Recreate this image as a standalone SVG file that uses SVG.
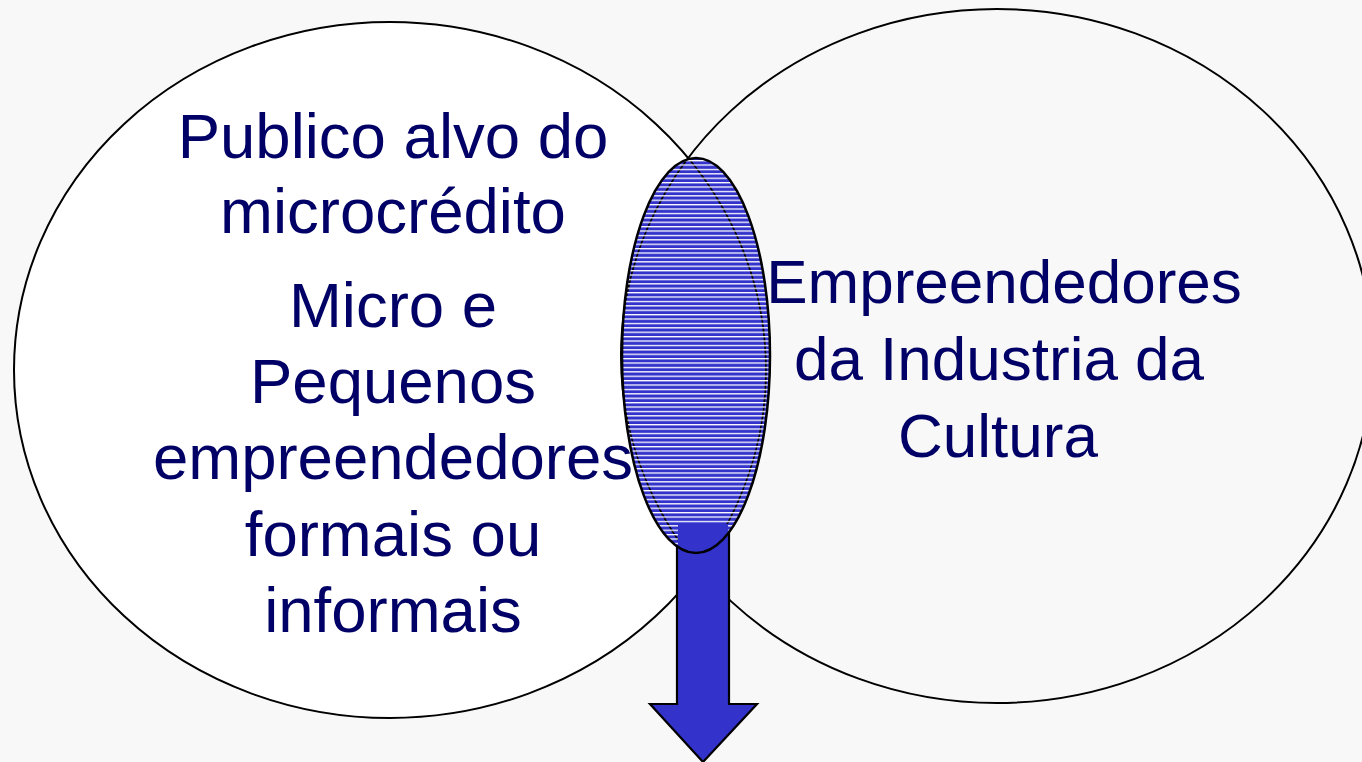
<svg xmlns="http://www.w3.org/2000/svg" width="1362" height="762" viewBox="0 0 1362 762">
  <defs>
    <style>
      .big { stroke: #000; stroke-width: 2; }
      .lbl { font-family: "Liberation Sans", Arial, sans-serif; fill: #000066; text-anchor: middle; }
      .blue { fill: #3333cc; }
    </style>
    <pattern id="hatch" patternUnits="userSpaceOnUse" x="0" y="160" width="20" height="4.4">
      <rect x="0" y="0" width="20" height="1.3" fill="#ffffff"/>
    </pattern>
    <clipPath id="lensClip">
      <ellipse cx="696" cy="355.5" rx="74" ry="197.5"/>
    </clipPath>
  </defs>

  <rect x="0" y="0" width="1362" height="762" fill="#f8f8f8"/>

  <g id="left-circle">
    <ellipse class="big" cx="390" cy="370" rx="376" ry="348" fill="#ffffff"/>
    <text class="lbl" font-size="63.5" x="393" y="158">Publico alvo do</text>
    <text class="lbl" font-size="63.5" x="393" y="233">microcrédito</text>
    <text class="lbl" font-size="63.5" x="393" y="327">Micro e</text>
    <text class="lbl" font-size="63.5" x="393" y="403">Pequenos</text>
    <text class="lbl" font-size="63.5" x="393" y="479">empreendedores</text>
    <text class="lbl" font-size="63.5" x="393" y="556">formais ou</text>
    <text class="lbl" font-size="63.5" x="393" y="632">informais</text>
  </g>

  <g id="right-circle">
    <ellipse class="big" cx="997" cy="356" rx="376" ry="347" fill="none"/>
  </g>

  <g id="connectors">
    <polygon points="677,520 729,520 729,704 757,704 703,762 650,704 677,704" class="blue" stroke="#000" stroke-width="2.2" stroke-linejoin="miter"/>
  </g>

  <g id="intersection">
    <ellipse cx="696" cy="355.5" rx="74" ry="197.5" class="blue"/>
    <g clip-path="url(#lensClip)">
      <ellipse cx="390" cy="370" rx="376" ry="348" fill="none" stroke="#000" stroke-width="1.6"/>
      <ellipse cx="997" cy="356" rx="376" ry="347" fill="none" stroke="#000" stroke-width="1.6"/>
      <rect x="618" y="158" width="156" height="398" fill="url(#hatch)"/>
      <rect x="678" y="524" width="50" height="40" class="blue"/>
    </g>
    <ellipse cx="696" cy="355.5" rx="74" ry="197.5" fill="none" stroke="#000" stroke-width="2.5"/>
  </g>

  <g id="right-label">
    <text class="lbl" font-size="62" x="1004" y="303">Empreendedores</text>
    <text class="lbl" font-size="62" x="999" y="380">da Industria da</text>
    <text class="lbl" font-size="62" x="998" y="457">Cultura</text>
  </g>
</svg>
